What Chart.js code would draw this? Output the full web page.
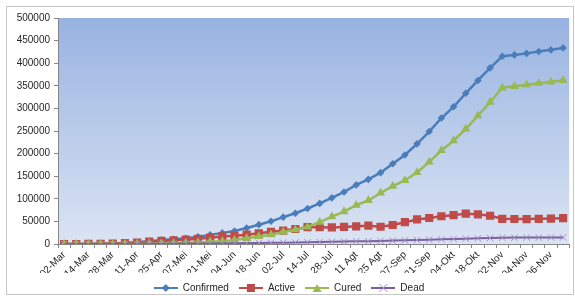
<!DOCTYPE html>
<html>
<head>
<meta charset="utf-8">
<script src="https://cdn.jsdelivr.net/npm/chart.js@4.4.0/dist/chart.umd.min.js"></script>
<style>
  html, body { margin: 0; padding: 0; background: #fff; }
  #wrap { width: 575px; height: 296px; position: relative; }
</style>
</head>
<body>
<div id="wrap"><canvas id="cases"></canvas></div>
<script>
// dates on the x axis, only every other one gets a label
const dates = ['02-Mar', '08-Mar', '14-Mar', '21-Mar', '28-Mar', '04-Apr', '11-Apr', '18-Apr', '25-Apr', '01-Mei',
  '07-Mei', '14-Mei', '21-Mei', '28-Mei', '04-Jun', '11-Jun', '18-Jun', '25-Jun', '02-Jul', '08-Jul',
  '14-Jul', '21-Jul', '28-Jul', '04-Agt', '11 Agt', '18-Agt', '25 Agt', '01-Sep', '07-Sep', '14-Sep',
  '21-Sep', '28-Sep', '04-Okt', '11-Okt', '18-Okt', '25-Okt', '02-Nov', '03-Nov', '04-Nov', '05-Nov',
  '06-Nov', '07-Nov'];

const confirmed = [2, 6, 96, 450, 1155, 2092, 3842, 6248, 8607, 10551,
  12776, 16006, 20162, 24538, 28818, 35295, 42762, 50187, 59394, 68079,
  78572, 89869, 102051, 115056, 130718, 143043, 157859, 177571, 196989, 221523,
  248852, 278722, 303498, 333449, 361867, 389712, 415402, 418375, 421731, 425796,
  429574, 433836];
const active = [2, 6, 83, 392, 994, 1751, 3229, 5082, 6845, 8160,
  9465, 11445, 14046, 16802, 18205, 20659, 23625, 27118, 29740, 33135,
  37226, 37083, 36611, 37853, 39017, 40460, 38134, 42009, 48207, 54277,
  57485, 61379, 63792, 67188, 65554, 62537, 55792, 55337, 55101, 55768,
  56357, 57111];
const cured = [0, 0, 8, 20, 59, 150, 286, 631, 1042, 1591,
  2381, 3518, 4838, 6240, 8892, 12636, 16798, 20449, 26667, 31585,
  37636, 48466, 60539, 71815, 85798, 96306, 112867, 128057, 140652, 158405,
  181690, 206870, 228453, 254417, 283802, 313764, 345566, 348926, 352371, 355680,
  358775, 362185];
const dead = [0, 0, 5, 38, 102, 191, 327, 535, 720, 800,
  930, 1043, 1278, 1496, 1721, 2000, 2339, 2620, 2987, 3359,
  3710, 4320, 4901, 5388, 5903, 6277, 6858, 7505, 8130, 8841,
  9677, 10473, 11253, 11844, 12511, 13411, 14044, 14112, 14259, 14348,
  14442, 14540];

const yTicks = [0, 50000, 100000, 150000, 200000, 250000, 300000, 350000, 400000, 450000, 500000];

const blue = '#4a7ebb', red = '#be4b48', green = '#98b954', purple = '#7d60a0';
const textFont = { family: '"Liberation Sans", Arial, sans-serif', size: 10 };

// little line+marker pictures for the legend
function legendIcon(color, shape) {
  const c = document.createElement('canvas');
  c.width = 24; c.height = 10;
  const g = c.getContext('2d');
  g.strokeStyle = color; g.lineWidth = 2;
  g.beginPath(); g.moveTo(0, 5); g.lineTo(24, 5); g.stroke();
  g.fillStyle = color;
  g.beginPath();
  if (shape === 'diamond') {
    g.moveTo(12, 1); g.lineTo(16, 5); g.lineTo(12, 9); g.lineTo(8, 5); g.closePath(); g.fill();
  } else if (shape === 'square') {
    g.fillRect(8, 1, 8, 8);
  } else if (shape === 'triangle') {
    g.moveTo(12, 1); g.lineTo(16.5, 9); g.lineTo(7.5, 9); g.closePath(); g.fill();
  } else {
    g.strokeStyle = '#a08fc6'; g.lineWidth = 1;
    g.moveTo(8, 1); g.lineTo(16, 9); g.moveTo(16, 1); g.lineTo(8, 9); g.stroke();
  }
  return c;
}
const icons = [legendIcon(blue, 'diamond'), legendIcon(red, 'square'), legendIcon(green, 'triangle'), legendIcon(purple, 'cross')];

const backdrop = {
  id: 'backdrop',
  beforeDraw(chart) {
    const { ctx, chartArea: a } = chart;
    ctx.save();
    ctx.strokeStyle = '#c6c6c6';
    ctx.lineWidth = 1;
    ctx.strokeRect(6.5, 6.5, 567, 288);
    const grad = ctx.createLinearGradient(0, a.top, 0, a.bottom);
    grad.addColorStop(0, '#98b3e1');
    grad.addColorStop(1, '#dbe4f4');
    ctx.fillStyle = grad;
    ctx.fillRect(a.left, a.top, a.right - a.left, a.bottom - a.top);
    ctx.restore();
  }
};

Chart.defaults.font.family = textFont.family;
Chart.defaults.font.size = 10;
Chart.defaults.color = '#262626';

const ctx = document.getElementById('cases');

new Chart(ctx, {
  type: 'line',
  data: {
    labels: dates,
    datasets: [
      { label: 'Confirmed', data: confirmed, borderColor: blue, backgroundColor: blue, borderWidth: 2.5,
        pointStyle: 'rectRot', pointRadius: 3.8, pointBorderWidth: 0, order: 3 },
      { label: 'Active', data: active, borderColor: red, backgroundColor: red, borderWidth: 2.5,
        pointStyle: 'rect', pointRadius: 5.8, pointBorderWidth: 0, order: 2 },
      { label: 'Cured', data: cured, borderColor: green, backgroundColor: green, borderWidth: 2.5,
        pointStyle: 'triangle', pointRadius: 5.2, pointBorderWidth: 0, order: 1 },
      { label: 'Dead', data: dead, borderColor: purple, backgroundColor: purple, borderWidth: 2,
        pointStyle: 'crossRot', pointRadius: 4.5, pointBorderWidth: 1, pointBorderColor: '#a08fc6', order: 0 }
    ]
  },
  options: {
    responsive: true,
    maintainAspectRatio: false,
    animation: false,
    layout: { padding: { left: 8, right: 5, top: 18, bottom: -7 } },
    plugins: {
      tooltip: { enabled: false },
      legend: {
        position: 'bottom',
        labels: {
          font: textFont,
          color: '#262626',
          usePointStyle: true,
          pointStyleWidth: 24,
          padding: 10,
          generateLabels(chart) {
            const items = Chart.defaults.plugins.legend.labels.generateLabels(chart);
            items.sort((a, b) => a.datasetIndex - b.datasetIndex);
            items.forEach(it => { it.pointStyle = icons[it.datasetIndex]; });
            return items;
          }
        }
      }
    },
    scales: {
      x: {
        offset: true,
        grid: { display: true, offset: true, drawOnChartArea: false, tickLength: 4, color: '#868686' },
        border: { color: '#868686' },
        ticks: {
          font: textFont, color: '#262626',
          autoSkip: false, minRotation: 45, maxRotation: 45, padding: 1,
          callback: (v, i) => (i % 2 === 0 ? dates[i] : '')
        },
        afterFit(scale) { scale.height = 29; }
      },
      y: {
        min: 0, max: 500000,
        afterBuildTicks(scale) { scale.ticks = yTicks.map(v => ({ value: v })); },
        grid: { display: true, drawOnChartArea: false, tickLength: 4, color: '#868686' },
        border: { color: '#868686' },
        ticks: { font: textFont, color: '#262626', padding: 4, callback: v => String(v) },
        afterFit(scale) { scale.width = 50; }
      }
    }
  },
  plugins: [backdrop]
});
</script>
</body>
</html>
